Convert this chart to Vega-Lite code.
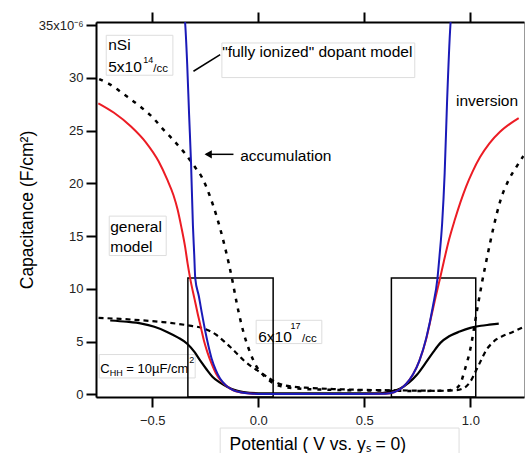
{
  "$schema": "https://vega.github.io/schema/vega-lite/v6.json",
  "width": 428,
  "height": 375,
  "autosize": {"type": "none"},
  "padding": {"left": 96, "top": 22, "right": 2, "bottom": 56},
  "background": "white",
  "config": {
    "font": "Liberation Sans",
    "view": {"stroke": "#999999", "strokeWidth": 1},
    "axis": {
      "domainColor": "black", "domainWidth": 2, "tickColor": "black", "tickWidth": 2, "tickSize": 10,
      "labelFont": "Liberation Sans", "labelFontSize": 13, "labelColor": "#222222", "grid": false,
      "titleFont": "Liberation Sans", "titleFontSize": 17.5, "titleFontWeight": "normal", "titleColor": "black"
    }
  },
  "datasets": {
    "curves": [
      {"s": "red", "x": -0.754, "y": 27.6}, {"s": "red", "x": -0.68, "y": 26.7}, {"s": "red", "x": -0.6, "y": 25.4}, {"s": "red", "x": -0.53, "y": 23.9}, {"s": "red", "x": -0.47, "y": 22.1}, {"s": "red", "x": -0.43, "y": 20.4}, {"s": "red", "x": -0.4, "y": 18.9}, {"s": "red", "x": -0.38, "y": 17.5}, {"s": "red", "x": -0.363, "y": 15.9}, {"s": "red", "x": -0.345, "y": 14.0}, {"s": "red", "x": -0.333, "y": 12.4}, {"s": "red", "x": -0.321, "y": 11.0}, {"s": "red", "x": -0.3, "y": 9.0}, {"s": "red", "x": -0.285, "y": 7.6}, {"s": "red", "x": -0.27, "y": 6.3}, {"s": "red", "x": -0.255, "y": 5.0}, {"s": "red", "x": -0.24, "y": 4.0}, {"s": "red", "x": -0.22, "y": 2.9}, {"s": "red", "x": -0.2, "y": 2.0}, {"s": "red", "x": -0.18, "y": 1.4}, {"s": "red", "x": -0.15, "y": 0.8}, {"s": "red", "x": -0.12, "y": 0.4}, {"s": "red", "x": -0.08, "y": 0.17}, {"s": "red", "x": -0.04, "y": 0.07}, {"s": "red", "x": 0.0, "y": 0.04}, {"s": "red", "x": 0.2, "y": 0.03}, {"s": "red", "x": 0.4, "y": 0.03}, {"s": "red", "x": 0.6, "y": 0.06}, {"s": "red", "x": 0.64, "y": 0.2}, {"s": "red", "x": 0.67, "y": 0.5}, {"s": "red", "x": 0.698, "y": 1.0}, {"s": "red", "x": 0.73, "y": 1.9}, {"s": "red", "x": 0.76, "y": 3.2}, {"s": "red", "x": 0.79, "y": 5.1}, {"s": "red", "x": 0.815, "y": 7.3}, {"s": "red", "x": 0.836, "y": 9.2}, {"s": "red", "x": 0.856, "y": 10.9}, {"s": "red", "x": 0.875, "y": 12.6}, {"s": "red", "x": 0.9, "y": 14.7}, {"s": "red", "x": 0.926, "y": 16.5}, {"s": "red", "x": 0.953, "y": 18.2}, {"s": "red", "x": 0.98, "y": 19.7}, {"s": "red", "x": 1.01, "y": 21.1}, {"s": "red", "x": 1.046, "y": 22.5}, {"s": "red", "x": 1.09, "y": 23.8}, {"s": "red", "x": 1.14, "y": 24.9}, {"s": "red", "x": 1.19, "y": 25.7}, {"s": "red", "x": 1.228, "y": 26.2},

      {"s": "blue", "x": -0.345, "y": 35.3}, {"s": "blue", "x": -0.344, "y": 35.0}, {"s": "blue", "x": -0.335, "y": 31.3}, {"s": "blue", "x": -0.326, "y": 26.5}, {"s": "blue", "x": -0.317, "y": 22.0}, {"s": "blue", "x": -0.308, "y": 16.0}, {"s": "blue", "x": -0.302, "y": 13.3}, {"s": "blue", "x": -0.297, "y": 11.0}, {"s": "blue", "x": -0.28, "y": 9.3}, {"s": "blue", "x": -0.265, "y": 7.6}, {"s": "blue", "x": -0.25, "y": 6.0}, {"s": "blue", "x": -0.235, "y": 4.6}, {"s": "blue", "x": -0.22, "y": 3.4}, {"s": "blue", "x": -0.2, "y": 2.3}, {"s": "blue", "x": -0.18, "y": 1.5}, {"s": "blue", "x": -0.15, "y": 0.8}, {"s": "blue", "x": -0.117, "y": 0.38}, {"s": "blue", "x": -0.08, "y": 0.17}, {"s": "blue", "x": -0.04, "y": 0.07}, {"s": "blue", "x": 0.0, "y": 0.04}, {"s": "blue", "x": 0.2, "y": 0.03}, {"s": "blue", "x": 0.4, "y": 0.03}, {"s": "blue", "x": 0.6, "y": 0.06}, {"s": "blue", "x": 0.64, "y": 0.2}, {"s": "blue", "x": 0.67, "y": 0.5}, {"s": "blue", "x": 0.698, "y": 1.0}, {"s": "blue", "x": 0.73, "y": 1.9}, {"s": "blue", "x": 0.76, "y": 3.2}, {"s": "blue", "x": 0.793, "y": 5.4}, {"s": "blue", "x": 0.824, "y": 8.4}, {"s": "blue", "x": 0.845, "y": 11.0}, {"s": "blue", "x": 0.855, "y": 13.2}, {"s": "blue", "x": 0.867, "y": 16.2}, {"s": "blue", "x": 0.879, "y": 21.0}, {"s": "blue", "x": 0.89, "y": 27.6}, {"s": "blue", "x": 0.906, "y": 35.0}, {"s": "blue", "x": 0.907, "y": 35.3},

      {"s": "black", "x": -0.698, "y": 7.0}, {"s": "black", "x": -0.62, "y": 6.88}, {"s": "black", "x": -0.55, "y": 6.7}, {"s": "black", "x": -0.49, "y": 6.4}, {"s": "black", "x": -0.43, "y": 5.92}, {"s": "black", "x": -0.38, "y": 5.4}, {"s": "black", "x": -0.335, "y": 4.8}, {"s": "black", "x": -0.3, "y": 4.0}, {"s": "black", "x": -0.275, "y": 3.23}, {"s": "black", "x": -0.245, "y": 2.4}, {"s": "black", "x": -0.215, "y": 1.64}, {"s": "black", "x": -0.18, "y": 1.1}, {"s": "black", "x": -0.145, "y": 0.69}, {"s": "black", "x": -0.11, "y": 0.4}, {"s": "black", "x": -0.07, "y": 0.22}, {"s": "black", "x": 0.0, "y": 0.1}, {"s": "black", "x": 0.3, "y": 0.08}, {"s": "black", "x": 0.575, "y": 0.1}, {"s": "black", "x": 0.62, "y": 0.25}, {"s": "black", "x": 0.67, "y": 0.55}, {"s": "black", "x": 0.71, "y": 1.1}, {"s": "black", "x": 0.748, "y": 1.85}, {"s": "black", "x": 0.79, "y": 3.0}, {"s": "black", "x": 0.825, "y": 4.0}, {"s": "black", "x": 0.86, "y": 4.9}, {"s": "black", "x": 0.9, "y": 5.5}, {"s": "black", "x": 0.95, "y": 5.95}, {"s": "black", "x": 1.0, "y": 6.3}, {"s": "black", "x": 1.05, "y": 6.5}, {"s": "black", "x": 1.09, "y": 6.6}, {"s": "black", "x": 1.134, "y": 6.7},

      {"s": "dot", "x": -0.75, "y": 29.9}, {"s": "dot", "x": -0.7, "y": 29.4}, {"s": "dot", "x": -0.63, "y": 28.4}, {"s": "dot", "x": -0.557, "y": 27.3}, {"s": "dot", "x": -0.5, "y": 26.3}, {"s": "dot", "x": -0.447, "y": 25.1}, {"s": "dot", "x": -0.4, "y": 24.1}, {"s": "dot", "x": -0.344, "y": 22.8}, {"s": "dot", "x": -0.3, "y": 21.6}, {"s": "dot", "x": -0.266, "y": 20.6}, {"s": "dot", "x": -0.23, "y": 18.9}, {"s": "dot", "x": -0.195, "y": 16.8}, {"s": "dot", "x": -0.165, "y": 14.6}, {"s": "dot", "x": -0.14, "y": 12.5}, {"s": "dot", "x": -0.12, "y": 10.6}, {"s": "dot", "x": -0.1, "y": 8.5}, {"s": "dot", "x": -0.08, "y": 6.7}, {"s": "dot", "x": -0.06, "y": 5.2}, {"s": "dot", "x": -0.035, "y": 3.8}, {"s": "dot", "x": -0.01, "y": 2.7}, {"s": "dot", "x": 0.02, "y": 1.9}, {"s": "dot", "x": 0.06, "y": 1.2}, {"s": "dot", "x": 0.1, "y": 0.8}, {"s": "dot", "x": 0.18, "y": 0.55}, {"s": "dot", "x": 0.35, "y": 0.42}, {"s": "dot", "x": 0.55, "y": 0.36}, {"s": "dot", "x": 0.75, "y": 0.32}, {"s": "dot", "x": 0.88, "y": 0.35}, {"s": "dot", "x": 0.92, "y": 0.45}, {"s": "dot", "x": 0.95, "y": 0.9}, {"s": "dot", "x": 0.975, "y": 2.4}, {"s": "dot", "x": 1.0, "y": 4.3}, {"s": "dot", "x": 1.03, "y": 7.8}, {"s": "dot", "x": 1.055, "y": 10.6}, {"s": "dot", "x": 1.08, "y": 13.1}, {"s": "dot", "x": 1.11, "y": 15.9}, {"s": "dot", "x": 1.142, "y": 18.4}, {"s": "dot", "x": 1.18, "y": 20.3}, {"s": "dot", "x": 1.215, "y": 21.5}, {"s": "dot", "x": 1.25, "y": 22.6},

      {"s": "dash", "x": -0.753, "y": 7.25}, {"s": "dash", "x": -0.65, "y": 7.15}, {"s": "dash", "x": -0.557, "y": 7.03}, {"s": "dash", "x": -0.45, "y": 6.85}, {"s": "dash", "x": -0.336, "y": 6.55}, {"s": "dash", "x": -0.258, "y": 6.24}, {"s": "dash", "x": -0.195, "y": 5.6}, {"s": "dash", "x": -0.16, "y": 5.0}, {"s": "dash", "x": -0.132, "y": 4.49}, {"s": "dash", "x": -0.1, "y": 3.85}, {"s": "dash", "x": -0.069, "y": 3.23}, {"s": "dash", "x": -0.03, "y": 2.6}, {"s": "dash", "x": 0.009, "y": 2.1}, {"s": "dash", "x": 0.057, "y": 1.45}, {"s": "dash", "x": 0.1, "y": 1.0}, {"s": "dash", "x": 0.151, "y": 0.75}, {"s": "dash", "x": 0.25, "y": 0.6}, {"s": "dash", "x": 0.355, "y": 0.5}, {"s": "dash", "x": 0.5, "y": 0.42}, {"s": "dash", "x": 0.638, "y": 0.38}, {"s": "dash", "x": 0.75, "y": 0.35}, {"s": "dash", "x": 0.85, "y": 0.33}, {"s": "dash", "x": 0.93, "y": 0.38}, {"s": "dash", "x": 0.97, "y": 0.6}, {"s": "dash", "x": 1.0, "y": 1.2}, {"s": "dash", "x": 1.028, "y": 2.3}, {"s": "dash", "x": 1.05, "y": 3.2}, {"s": "dash", "x": 1.075, "y": 4.2}, {"s": "dash", "x": 1.1, "y": 4.8}, {"s": "dash", "x": 1.122, "y": 5.2}, {"s": "dash", "x": 1.155, "y": 5.55}, {"s": "dash", "x": 1.186, "y": 5.8}, {"s": "dash", "x": 1.22, "y": 6.1}, {"s": "dash", "x": 1.252, "y": 6.4}
    ],
    "frames": [
      {"x": -0.3318, "x2": 0.0702, "y": -0.256, "y2": 11.03},
      {"x": 0.6277, "x2": 1.0255, "y": -0.256, "y2": 11.03}
    ],
    "tboxes": [
      {"x": -0.7168, "x2": -0.4025, "y": 34.05, "y2": 30.26},
      {"x": -0.1715, "x2": 0.738, "y": 33.32, "y2": 30.04},
      {"x": -0.7026, "x2": -0.434, "y": 16.9, "y2": 13.16},
      {"x": -0.0099, "x2": 0.2997, "y": 7.02, "y2": 4.81},
      {"x": -0.7498, "x2": -0.2974, "y": 3.77, "y2": 1.55},
      {"x": -0.1795, "x2": 0.9468, "y": -3.2, "y2": -6.4}
    ],
    "t15": [
      {"t": "nSi", "x": -0.7073, "y": 32.63},
      {"t": "5x10", "x": -0.7073, "y": 30.54},
      {"t": "\"fully ionized\" dopant model", "x": -0.1701, "y": 31.96},
      {"t": "accumulation", "x": -0.0853, "y": 22.1},
      {"t": "inversion", "x": 0.9326, "y": 27.32},
      {"t": "general", "x": -0.6979, "y": 15.37},
      {"t": "model", "x": -0.6979, "y": 13.47},
      {"t": "6x10", "x": 0.0, "y": 4.96}
    ],
    "t14": [
      {"t": "C", "x": -0.745, "y": 1.99},
      {"t": "= 10µF/cm", "x": -0.6225, "y": 1.99}
    ],
    "t9": [
      {"t": "14", "x": -0.5424, "y": 31.4},
      {"t": "17", "x": 0.152, "y": 6.17},
      {"t": "HH", "x": -0.7, "y": 1.71},
      {"t": "2", "x": -0.3256, "y": 2.94}
    ],
    "t11": [
      {"t": "/cc", "x": -0.4953, "y": 30.54},
      {"t": "/cc", "x": 0.2063, "y": 4.96}
    ],
    "leader": [{"x": -0.3054, "y": 30.64, "x2": -0.1795, "y2": 32.22}],
    "arrow": [{"x": -0.245, "x2": -0.1169, "y": 22.76}],
    "arrowhead": [{"x": -0.2361, "y": 22.76}]
  },
  "layer": [
    {
      "layer": [
        {
          "data": {"name": "tboxes"},
          "mark": {"type": "rect", "fill": null, "stroke": "#dddddd", "strokeWidth": 1, "clip": false},
          "encoding": {
            "x": {"field": "x", "type": "quantitative", "scale": {"domain": [-0.765, 1.253], "nice": false, "zero": false},
              "axis": {"orient": "bottom", "values": [-0.5, 0, 0.5, 1.0], "format": ".1f", "labelPadding": 7,
                "title": "Potential ( V vs. yₛ = 0)", "titleX": 133, "titleY": 52, "titleAlign": "left", "titleBaseline": "alphabetic"}},
            "x2": {"field": "x2"},
            "y": {"field": "y", "type": "quantitative", "scale": {"domain": [-0.256, 35.31], "nice": false, "zero": false},
              "axis": {"orient": "left", "values": [0, 5, 10, 15, 20, 25, 30, 35], "labelPadding": 3,
                "labelExpr": "datum.value == 35 ? '35x10⁻⁶' : datum.label",
                "title": "Capacitance (F/cm²)", "titleX": -64, "titleY": 187.5, "titleAngle": -90, "titleAlign": "center", "titleBaseline": "alphabetic"}},
            "y2": {"field": "y2"}
          }
        },
        {
          "data": {"name": "curves"},
          "transform": [{"filter": "datum.s == 'dot'"}],
          "mark": {"type": "line", "color": "black", "strokeWidth": 2.5, "strokeDash": [4, 6], "strokeCap": "butt", "interpolate": "monotone", "clip": true},
          "encoding": {"x": {"field": "x", "type": "quantitative"}, "y": {"field": "y", "type": "quantitative"}}
        },
        {
          "data": {"name": "curves"},
          "transform": [{"filter": "datum.s == 'dash'"}],
          "mark": {"type": "line", "color": "black", "strokeWidth": 2.2, "strokeDash": [5, 4], "strokeCap": "butt", "interpolate": "monotone", "clip": true},
          "encoding": {"x": {"field": "x", "type": "quantitative"}, "y": {"field": "y", "type": "quantitative"}}
        },
        {
          "data": {"name": "frames"},
          "mark": {"type": "rect", "fill": null, "stroke": "black", "strokeWidth": 1.5},
          "encoding": {"x": {"field": "x", "type": "quantitative"}, "x2": {"field": "x2"}, "y": {"field": "y", "type": "quantitative"}, "y2": {"field": "y2"}}
        },
        {
          "data": {"name": "curves"},
          "transform": [{"filter": "datum.s == 'black'"}],
          "mark": {"type": "line", "color": "black", "strokeWidth": 2.2, "interpolate": "monotone", "clip": true},
          "encoding": {"x": {"field": "x", "type": "quantitative"}, "y": {"field": "y", "type": "quantitative"}}
        },
        {
          "data": {"name": "curves"},
          "transform": [{"filter": "datum.s == 'red'"}],
          "mark": {"type": "line", "color": "#ec1c24", "strokeWidth": 2, "interpolate": "monotone", "clip": true},
          "encoding": {"x": {"field": "x", "type": "quantitative"}, "y": {"field": "y", "type": "quantitative"}}
        },
        {
          "data": {"name": "curves"},
          "transform": [{"filter": "datum.s == 'blue'"}],
          "mark": {"type": "line", "color": "#1a1ab8", "strokeWidth": 2, "interpolate": "monotone", "clip": true},
          "encoding": {"x": {"field": "x", "type": "quantitative"}, "y": {"field": "y", "type": "quantitative"}}
        },
        {
          "data": {"name": "leader"},
          "mark": {"type": "rule", "color": "black", "strokeWidth": 1.5},
          "encoding": {"x": {"field": "x", "type": "quantitative"}, "y": {"field": "y", "type": "quantitative"}, "x2": {"field": "x2"}, "y2": {"field": "y2"}}
        },
        {
          "data": {"name": "arrow"},
          "mark": {"type": "rule", "color": "black", "strokeWidth": 1.5},
          "encoding": {"x": {"field": "x", "type": "quantitative"}, "x2": {"field": "x2"}, "y": {"field": "y", "type": "quantitative"}}
        },
        {
          "data": {"name": "arrowhead"},
          "mark": {"type": "point", "shape": "triangle-left", "filled": true, "color": "black", "size": 70, "opacity": 1},
          "encoding": {"x": {"field": "x", "type": "quantitative"}, "y": {"field": "y", "type": "quantitative"}}
        },
        {
          "data": {"name": "t15"},
          "mark": {"type": "text", "align": "left", "baseline": "alphabetic", "fontSize": 15.5, "color": "black", "font": "Liberation Sans"},
          "encoding": {"x": {"field": "x", "type": "quantitative"}, "y": {"field": "y", "type": "quantitative"}, "text": {"field": "t"}}
        },
        {
          "data": {"name": "t14"},
          "mark": {"type": "text", "align": "left", "baseline": "alphabetic", "fontSize": 13, "color": "black", "font": "Liberation Sans"},
          "encoding": {"x": {"field": "x", "type": "quantitative"}, "y": {"field": "y", "type": "quantitative"}, "text": {"field": "t"}}
        },
        {
          "data": {"name": "t9"},
          "mark": {"type": "text", "align": "left", "baseline": "alphabetic", "fontSize": 9, "color": "black", "font": "Liberation Sans"},
          "encoding": {"x": {"field": "x", "type": "quantitative"}, "y": {"field": "y", "type": "quantitative"}, "text": {"field": "t"}}
        },
        {
          "data": {"name": "t11"},
          "mark": {"type": "text", "align": "left", "baseline": "alphabetic", "fontSize": 11.5, "color": "black", "font": "Liberation Sans"},
          "encoding": {"x": {"field": "x", "type": "quantitative"}, "y": {"field": "y", "type": "quantitative"}, "text": {"field": "t"}}
        }
      ]
    },
    {
      "data": {"values": [{"x": 0, "y": 0}]},
      "mark": {"type": "point", "opacity": 0},
      "encoding": {
        "x": {"field": "x", "type": "quantitative", "scale": {"domain": [-0.765, 1.253], "nice": false, "zero": false},
          "axis": {"orient": "top", "values": [-0.5, 0, 0.5, 1.0], "labels": false, "title": null}},
        "y": {"field": "y", "type": "quantitative"}
      }
    }
  ],
  "resolve": {"axis": {"x": "independent"}}
}
